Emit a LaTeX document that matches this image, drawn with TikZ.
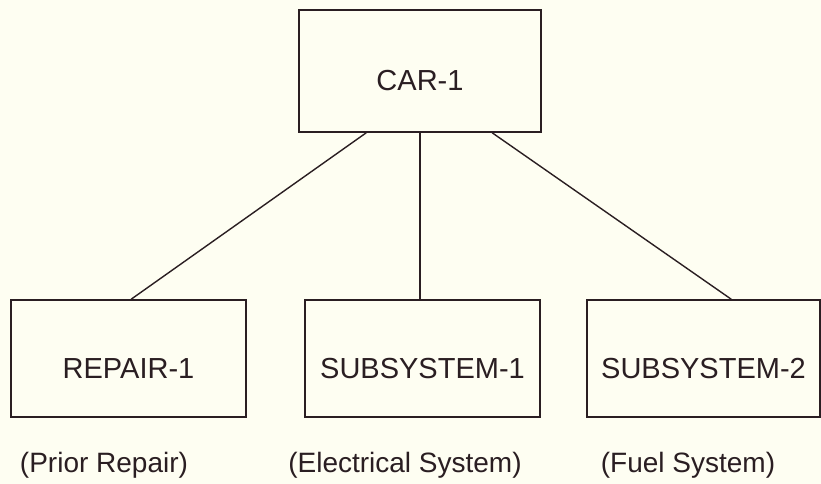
\documentclass[tikz,border=0pt]{standalone}
\usepackage{fontspec}
\setmainfont{Liberation Sans}
\definecolor{bg}{RGB}{254,254,242}
\definecolor{ink}{RGB}{42,30,34}
\newcommand{\lowered}[1]{\raisebox{-10pt}[\height][\depth]{#1}}
\begin{document}
\begin{tikzpicture}[x=1pt,y=-1pt,
  box/.style={draw=ink,line width=1.6pt,fill=none,inner sep=0pt,text=ink,
    font=\fontsize{29}{34}\selectfont},
  lbl/.style={text=ink,inner sep=0pt,font=\fontsize{28}{33}\selectfont},
  link/.style={draw=ink,line width=1.4pt}]
\fill[bg] (0,0) rectangle (821,484);
\useasboundingbox (0,0) rectangle (821,484);
\node[box,minimum width=242pt,minimum height=122pt] (car) at (420,71) {\lowered{CAR-1}};
\node[box,minimum width=235pt,minimum height=117pt] (rep) at (128.5,358.5) {\lowered{REPAIR-1}};
\node[box,minimum width=235pt,minimum height=117pt] (s1) at (422.5,358.5) {\lowered{SUBSYSTEM-1}};
\node[box,minimum width=233pt,minimum height=117pt] (s2) at (703.5,358.5) {\lowered{SUBSYSTEM-2}};
\node[lbl] (l1) at (104,465) {(Prior Repair)};
\node[lbl] (l2) at (405,465) {(Electrical System)};
\node[lbl] (l3) at (688,465) {(Fuel System)};
\path (car.south west) ++(68,0) coordinate (cl);
\path (car.south west) ++(194,0) coordinate (cr);
\path (s2.north west) ++(145,0) coordinate (s2t);
\path (rep.north west) ++(121,0) coordinate (rept);
\draw[link] (cl) -- (rept);
\draw[link] (car.south) -- (car.south |- s1.north);
\draw[link] (cr) -- (s2t);
\end{tikzpicture}
\end{document}
